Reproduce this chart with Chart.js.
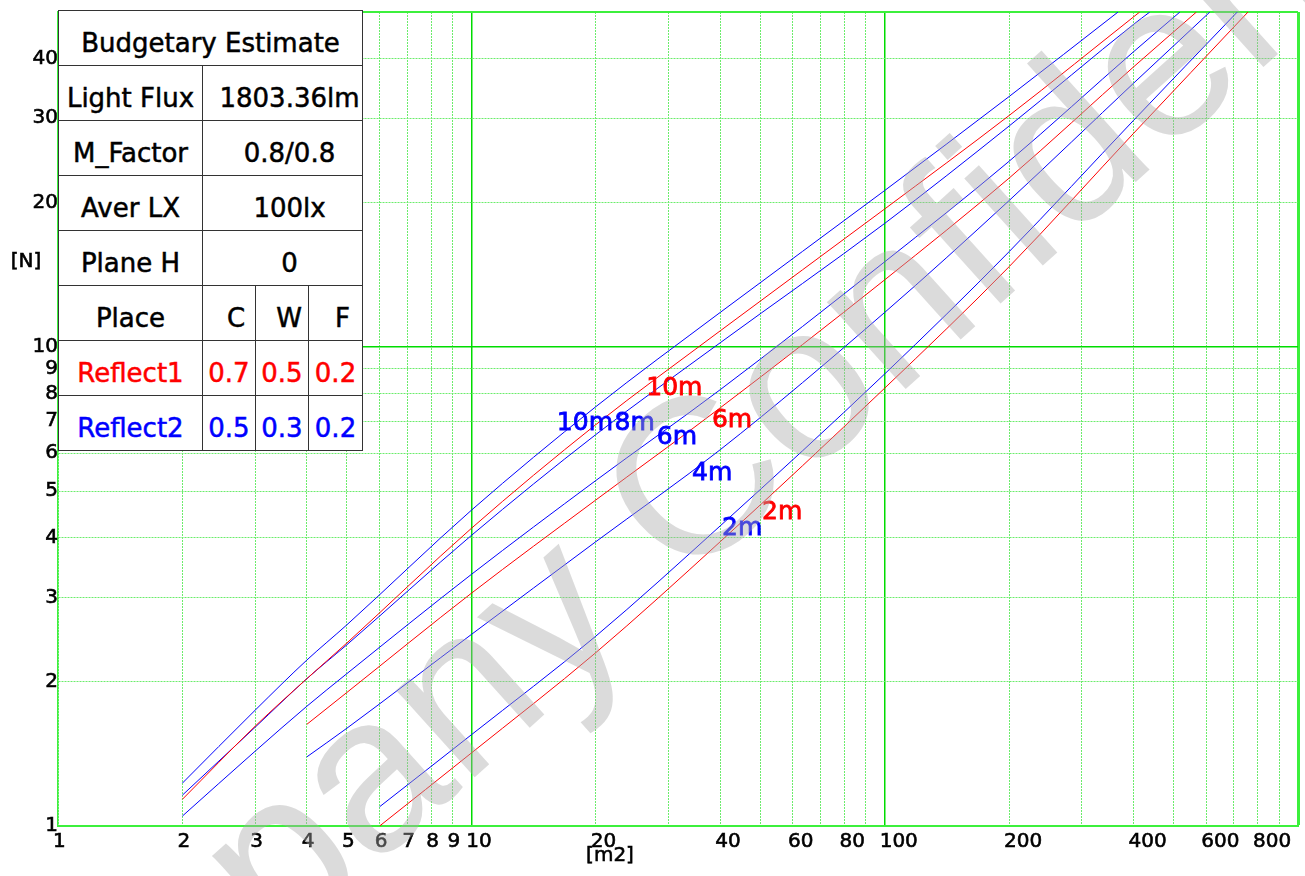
<!DOCTYPE html>
<html>
<head>
<meta charset="utf-8">
<script src="https://cdn.jsdelivr.net/npm/chart.js@4.4.1/dist/chart.umd.min.js"></script>
<style>
  html, body { margin: 0; padding: 0; background: #fff; }
  #wrap { position: relative; width: 1305px; height: 876px; overflow: hidden; }
  #chart { position: absolute; left: 0; top: 0; }
  #info {
    position: absolute; left: 58px; top: 10px; width: 304px;
    border-collapse: collapse; table-layout: fixed; background: #fff;
    font-family: 'DejaVu Sans', Verdana, sans-serif; font-size: 26px; color: #000;
    -webkit-text-stroke: 0.5px currentColor;
  }
  #info td {
    border: 1px solid #333; height: 55px; padding: 10px 0 0 0; box-sizing: border-box;
    text-align: center; white-space: nowrap; overflow: hidden; vertical-align: middle;
  }
  #info td.v { padding-left: 14px; }
  #info .r { color: #ff0000; }
  #info .b { color: #0000ff; }
</style>
</head>
<body>
<div id="wrap">
  <canvas id="chart" width="1305" height="876"></canvas>
  <table id="info">
    <colgroup><col style="width:144px"><col style="width:53px"><col style="width:53px"><col style="width:54px"></colgroup>
    <tr><td colspan="4">Budgetary Estimate</td></tr>
    <tr><td>Light Flux</td><td class="v" colspan="3">1803.36lm</td></tr>
    <tr><td>M_Factor</td><td class="v" colspan="3">0.8/0.8</td></tr>
    <tr><td>Aver LX</td><td class="v" colspan="3">100lx</td></tr>
    <tr><td>Plane H</td><td class="v" colspan="3">0</td></tr>
    <tr><td>Place</td><td class="v">C</td><td class="v">W</td><td class="v">F</td></tr>
    <tr class="r"><td>Reflect1</td><td>0.7</td><td>0.5</td><td>0.2</td></tr>
    <tr class="b"><td>Reflect2</td><td>0.5</td><td>0.3</td><td>0.2</td></tr>
  </table>
</div>
<script>
// axes
const xGridValues = [1,2,3,4,5,6,7,8,9,10,20,30,40,50,60,70,80,90,100,200,300,400,500,600,700,800,900,1000];
const xTickLabels = [1,2,3,4,5,6,7,8,9,10,20,40,60,80,100,200,400,600,800];
const yGridValues = [1,2,3,4,5,6,7,8,9,10,20,30,40,50];
const yTickLabels = [1,2,3,4,5,6,7,8,9,10,20,30,40];

// Reflect2 (blue) curves, room height 10m / 8m / 6m / 4m / 2m
const r2h10X = [2, 3, 4, 5, 10, 20, 40, 100, 200, 367];
const r2h10Y = [1.229, 1.745, 2.22, 2.63, 4.56, 7.50, 11.8, 21.2, 33.3, 50];
const r2h8X = [2, 3, 4, 5, 10, 20, 40, 100, 200, 400, 438];
const r2h8Y = [1.16, 1.608, 2.03, 2.39, 4.04, 6.56, 10.2, 18.1, 28.9, 47.1, 50];
const r2h6X = [2, 3, 4, 5, 10, 20, 40, 100, 200, 400, 518];
const r2h6Y = [1.049, 1.433, 1.778, 2.08, 3.35, 5.26, 8.14, 15.05, 24.4, 41.3, 50];
const r2h4X = [4, 5, 10, 20, 40, 100, 200, 400, 612];
const r2h4Y = [1.394, 1.60, 2.51, 3.92, 6.10, 11.8, 20.2, 35.5, 50];
const r2h2X = [6, 10, 20, 40, 100, 200, 400, 713];
const r2h2Y = [1.097, 1.55, 2.49, 4.23, 8.78, 15.8, 29.7, 50];

// Reflect1 (red) curves, room height 10m / 6m / 2m
const r1h10X = [2, 3, 4, 5, 10, 20, 40, 100, 200, 414];
const r1h10Y = [1.137, 1.616, 2.03, 2.41, 4.18, 6.88, 10.8, 19.4, 30.4, 50];
const r1h6X = [4, 5, 10, 20, 40, 100, 200, 400, 568];
const r1h6Y = [1.63, 1.90, 3.06, 4.79, 7.46, 13.8, 22.5, 38.4, 50];
const r1h2X = [6, 10, 20, 40, 100, 200, 400, 757];
const r1h2Y = [1.0, 1.42, 2.30, 3.92, 8.2, 14.7, 27.9, 50];

// curve tags (text, anchor in data units)
const tagText = ['10m', '8m', '6m', '4m', '2m', '10m', '6m', '2m'];
const tagX = [16.1, 22.2, 28.1, 34.2, 40.4, 26.5, 38.2, 50.5];
const tagY = [6.91, 6.93, 6.46, 5.43, 4.17, 8.17, 7.01, 4.52];
const tagSeries = ['r2', 'r2', 'r2', 'r2', 'r2', 'r1', 'r1', 'r1'];

const RED = '#ff0000', BLUE = '#0000ff';
const FONT = "'DejaVu Sans', Verdana, sans-serif";

const pts = (xs, ys) => xs.map((v, i) => ({x: v, y: ys[i]}));
const curve = (label, xs, ys, color) => ({
  label, data: pts(xs, ys), borderColor: color, borderWidth: 1,
  pointRadius: 0, fill: false, cubicInterpolationMode: 'monotone'
});

const xMajor = [10, 100];
const yMajor = [10];

function gridColor(v, major, edge) {
  if (v === edge) return '#3cf03c';
  if (major.includes(v)) return '#00dc00';
  return '#6cec6c';
}
function gridWidth(v, major, edge, edgeW) {
  if (v === edge) return edgeW;
  if (major.includes(v)) return 1.5;
  return 1;
}
const isMinor = (c, major, edge) => c.tick && !major.includes(c.tick.value) && c.tick.value !== edge;

const overlay = {
  id: 'overlay',
  afterDatasetsDraw(chart) {
    const {ctx, scales: {x, y}} = chart;
    ctx.save();
    ctx.font = `25px ${FONT}`;
    ctx.textAlign = 'left';
    ctx.textBaseline = 'middle';
    ctx.lineWidth = 0.8;
    tagText.forEach((t, i) => {
      const col = tagSeries[i] === 'r1' ? RED : BLUE;
      const px = x.getPixelForValue(tagX[i]), py = y.getPixelForValue(tagY[i]);
      ctx.fillStyle = col;
      ctx.strokeStyle = col;
      ctx.fillText(t, px, py);
      ctx.strokeText(t, px, py);
    });
    ctx.restore();
  },
  afterDraw(chart) {
    const {ctx} = chart;
    ctx.save();
    ctx.fillStyle = '#000';
    ctx.strokeStyle = '#000';
    ctx.lineWidth = 0.6;
    ctx.font = `20px ${FONT}`;
    ctx.textAlign = 'center';
    ctx.textBaseline = 'middle';
    ctx.fillText('[N]', 26, 262);
    ctx.strokeText('[N]', 26, 262);
    ctx.fillText('[m2]', 610, 856);
    ctx.strokeText('[m2]', 610, 856);
    ctx.restore();

    // watermark
    ctx.save();
    ctx.translate(702, 490);
    ctx.rotate(-42 * Math.PI / 180);
    ctx.font = "222px 'Liberation Sans', Arial, sans-serif";
    ctx.fillStyle = 'rgba(170,170,170,0.42)';
    ctx.textAlign = 'center';
    ctx.textBaseline = 'middle';
    ctx.fillText('Company Confidential', 0, 0);
    ctx.restore();
  }
};

const tickFont = { family: FONT, size: 20 };

new Chart(document.getElementById('chart'), {
  type: 'line',
  data: {
    datasets: [
      curve('Reflect2 10m', r2h10X, r2h10Y, BLUE),
      curve('Reflect1 10m', r1h10X, r1h10Y, RED),
      curve('Reflect2 8m', r2h8X, r2h8Y, BLUE),
      curve('Reflect2 6m', r2h6X, r2h6Y, BLUE),
      curve('Reflect1 6m', r1h6X, r1h6Y, RED),
      curve('Reflect2 4m', r2h4X, r2h4Y, BLUE),
      curve('Reflect2 2m', r2h2X, r2h2Y, BLUE),
      curve('Reflect1 2m', r1h2X, r1h2Y, RED),
    ]
  },
  options: {
    responsive: false,
    animation: false,
    layout: { padding: { top: 10, right: 7, left: 0, bottom: 0 } },
    plugins: { legend: { display: false }, tooltip: { enabled: false } },
    scales: {
      x: {
        type: 'logarithmic', min: 1, max: 1000,
        afterBuildTicks: s => { s.ticks = xGridValues.map(v => ({value: v})); },
        afterFit: s => { s.height = 50; },
        ticks: {
          autoSkip: false, maxRotation: 0, minRotation: 0, align: 'start',
          labelOffset: -5, padding: 4, color: '#000',
          textStrokeColor: '#000', textStrokeWidth: 0.6,
          font: tickFont,
          callback: v => xTickLabels.includes(v) ? String(v) : ''
        },
        grid: {
          drawTicks: false,
          color: c => gridColor(c.tick && c.tick.value, xMajor, 1000),
          lineWidth: c => gridWidth(c.tick && c.tick.value, xMajor, 1000, 3)
        },
        border: {
          display: true, color: '#3cf03c', width: 2,
          dash: c => isMinor(c, xMajor, 1000) ? [2, 1] : []
        }
      },
      y: {
        type: 'logarithmic', min: 1, max: 50,
        afterBuildTicks: s => { s.ticks = yGridValues.map(v => ({value: v})); },
        afterFit: s => { s.width = 58; },
        ticks: {
          autoSkip: false, padding: 0, color: '#000',
          textStrokeColor: '#000', textStrokeWidth: 0.6,
          font: tickFont,
          callback: v => yTickLabels.includes(v) ? String(v) : ''
        },
        grid: {
          drawTicks: false,
          color: c => gridColor(c.tick && c.tick.value, yMajor, 50),
          lineWidth: c => gridWidth(c.tick && c.tick.value, yMajor, 50, 2)
        },
        border: {
          display: true, color: '#3cf03c', width: 1.5,
          dash: c => isMinor(c, yMajor, 50) ? [2, 1] : []
        }
      }
    }
  },
  plugins: [overlay]
});
</script>
</body>
</html>
